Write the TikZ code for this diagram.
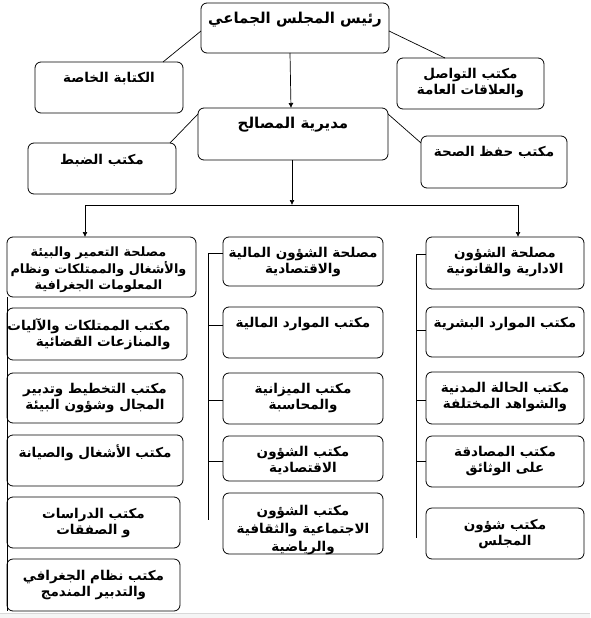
\documentclass[tikz,border=0pt]{standalone}
\usepackage{fontspec}
\newfontfamily\arabicfont[Script=Arabic]{DejaVu Sans Bold}
\TeXXeTstate=1
\usetikzlibrary{arrows.meta}
\newcommand\ar[1]{\beginR #1\endR}
\newcommand\bx[5]{\node[box, minimum width={#4-#2}, minimum height={#5-#3}] (#1) at ({(#2+#4)/2},{(#3+#5)/2}) {};}
\tikzset{
  box/.style={draw, rounded corners=6pt, line width=0.8pt, inner sep=0pt, outer sep=0pt},
  txt/.style={font=\arabicfont\fontsize{13.5}{16.5}\selectfont, align=center, inner sep=1pt, anchor=north},
  bigtxt/.style={txt, font=\arabicfont\fontsize{15}{17}\selectfont},
  smalltxt/.style={txt, font=\arabicfont\fontsize{12.8}{16.5}\selectfont},
  widetxt/.style={txt, font=\arabicfont\fontsize{13.5}{18}\selectfont},
  conn/.style={line width=0.7pt},
  arr/.style={line width=0.7pt, -{Latex[length=5pt,width=5pt]}}
}
\begin{document}
\begin{tikzpicture}[x=1pt,y=-1pt]
\useasboundingbox (0,0) rectangle (590,618);
\fill[gray!8] (0,613) rectangle (590,618);
\draw[gray!30, line width=0.6pt] (0,613) -- (590,613);
% top boxes
\bx{top}{201}{3}{389}{53}
\bx{kitaba}{35}{62}{183}{113}
\bx{tawasul}{397}{58}{544}{109}
\bx{mudir}{198}{108}{388}{160}
\bx{dabt}{28}{143}{176}{194}
\bx{hifd}{421}{136}{567}{188}
% left column
\bx{L1}{7}{237}{196}{297}
\bx{L2}{7}{308}{187}{360}
\bx{L3}{7}{373}{183}{423}
\bx{L4}{7}{435}{183}{486}
\bx{L5}{7}{497}{180}{548}
\bx{L6}{7}{559}{180}{611}
% middle column
\bx{M1}{223}{237}{383}{286}
\bx{M2}{223}{307}{383}{358}
\bx{M3}{223}{373}{383}{424}
\bx{M4}{223}{436}{383}{481}
\bx{M5}{223}{493}{383}{554}
% right column
\bx{R1}{426}{237}{584}{289}
\bx{R2}{426}{307}{584}{357}
\bx{R3}{426}{372}{584}{424}
\bx{R4}{426}{436}{584}{487}
\bx{R5}{426}{508}{584}{559}
% texts
\node[bigtxt] (ttop) at ([yshift=-8pt]top.north) {\ar{رئيس المجلس الجماعي}};
\node[txt] (tkitaba) at ([yshift=-9pt]kitaba.north) {\ar{الكتابة الخاصة}};
\node[txt] (ttawasul) at ([yshift=-9pt]tawasul.north) {\ar{مكتب التواصل}\\\ar{والعلاقات العامة}};
\node[bigtxt] (tmudir) at ([yshift=-8pt]mudir.north) {\ar{مديرية المصالح}};
\node[txt] (tdabt) at ([yshift=-10pt]dabt.north) {\ar{مكتب الضبط}};
\node[txt] (thifd) at ([yshift=-9pt]hifd.north) {\ar{مكتب حفظ الصحة}};
\node[smalltxt] (tL1) at ([yshift=-9pt, xshift=-3pt]L1.north) {\ar{مصلحة التعمير والبيئة}\\\ar{والأشغال والممتلكات ونظام}\\\ar{المعلومات الجغرافية}};
\node[txt, align=right] (tL2) at ([yshift=-9pt, xshift=-8pt]L2.north) {\ar{مكتب الممتلكات والآليات}\\\ar{والمنازعات القضائية}};
\node[txt] (tL3) at ([yshift=-9pt]L3.north) {\ar{مكتب التخطيط وتدبير}\\\ar{المجال وشؤون البيئة}};
\node[txt] (tL4) at ([yshift=-9pt]L4.north) {\ar{مكتب الأشغال والصيانة}};
\node[txt] (tL5) at ([yshift=-10pt]L5.north) {\ar{مكتب الدراسات}\\\ar{و الصفقات}};
\node[txt] (tL6) at ([yshift=-10pt]L6.north) {\ar{مكتب نظام الجغرافي}\\\ar{والتدبير المندمج}};
\node[txt] (tM1) at ([yshift=-9pt]M1.north) {\ar{مصلحة الشؤون المالية}\\\ar{والاقتصادية}};
\node[txt] (tM2) at ([yshift=-9pt]M2.north) {\ar{مكتب الموارد المالية}};
\node[txt] (tM3) at ([yshift=-9pt]M3.north) {\ar{مكتب الميزانية}\\\ar{والمحاسبة}};
\node[txt] (tM4) at ([yshift=-9pt]M4.north) {\ar{مكتب الشؤون}\\\ar{الاقتصادية}};
\begin{scope}
\clip[rounded corners=6pt] (M5.south west) rectangle (M5.north east);
\node[widetxt] (tM5) at ([yshift=-11pt]M5.north) {\ar{مكتب الشؤون}\\\ar{الاجتماعية والثقافية}\\\ar{والرياضية}};
\end{scope}
\node[txt] (tR1) at ([yshift=-9pt]R1.north) {\ar{مصلحة الشؤون}\\\ar{الادارية والقانونية}};
\node[txt] (tR2) at ([yshift=-9pt]R2.north) {\ar{مكتب الموارد البشرية}};
\node[txt] (tR3) at ([yshift=-9pt]R3.north) {\ar{مكتب الحالة المدنية}\\\ar{والشواهد المختلفة}};
\node[txt] (tR4) at ([yshift=-9pt]R4.north) {\ar{مكتب المصادقة}\\\ar{على الوثائق}};
\node[txt] (tR5) at ([yshift=-10pt]R5.north) {\ar{مكتب شؤون}\\\ar{المجلس}};
% top connectors
\draw[arr] ([xshift=-5pt]top.south) -- ([xshift=-2pt]mudir.north);
\draw[conn] ([yshift=-3pt]top.west) -- ([xshift=-20pt]kitaba.north east);
\draw[conn] ([yshift=-3pt]top.east) -- ([xshift=48pt]tawasul.north west);
\draw[conn] ([yshift=-6pt]mudir.north west) -- ([xshift=-6pt]dabt.north east);
\draw[conn] ([yshift=-6pt]mudir.north east) -- ([yshift=-7pt]hifd.north west);
% bus
\coordinate (bus) at (292,205);
\coordinate (busL) at (85,205);
\coordinate (busR) at (518,205);
\draw[arr] (mudir.south -| bus) -- (bus);
\draw[conn] (busL) -- (busR);
\draw[arr] (busL) -- (busL |- L1.north);
\draw[arr] (busR) -- (busR |- R1.north);
% left spine
\draw[conn] (L1.south west) -- (L6.south west);
% middle spine
\coordinate (m1) at (208,253);
\coordinate (m2) at (208,325);
\coordinate (m3) at (208,400);
\coordinate (m4) at (208,461);
\coordinate (mend) at (208,520);
\draw[conn] (m1) -- (mend);
\draw[conn] (m1) -- (m1 -| M1.west);
\draw[conn] (m2) -- (m2 -| M2.west);
\draw[conn] (m3) -- (m3 -| M3.west);
\draw[conn] (m4) -- (m4 -| M4.west);
% right spine
\coordinate (r1) at (416,254);
\coordinate (r2) at (416,330);
\coordinate (r3) at (416,400);
\coordinate (r4) at (416,461);
\coordinate (rend) at (416,538);
\draw[conn] (r1) -- (rend);
\draw[conn] (r1) -- (r1 -| R1.west);
\draw[conn] (r2) -- (r2 -| R2.west);
\draw[conn] (r3) -- (r3 -| R3.west);
\draw[conn] (r4) -- (r4 -| R4.west);
\end{tikzpicture}
\end{document}
